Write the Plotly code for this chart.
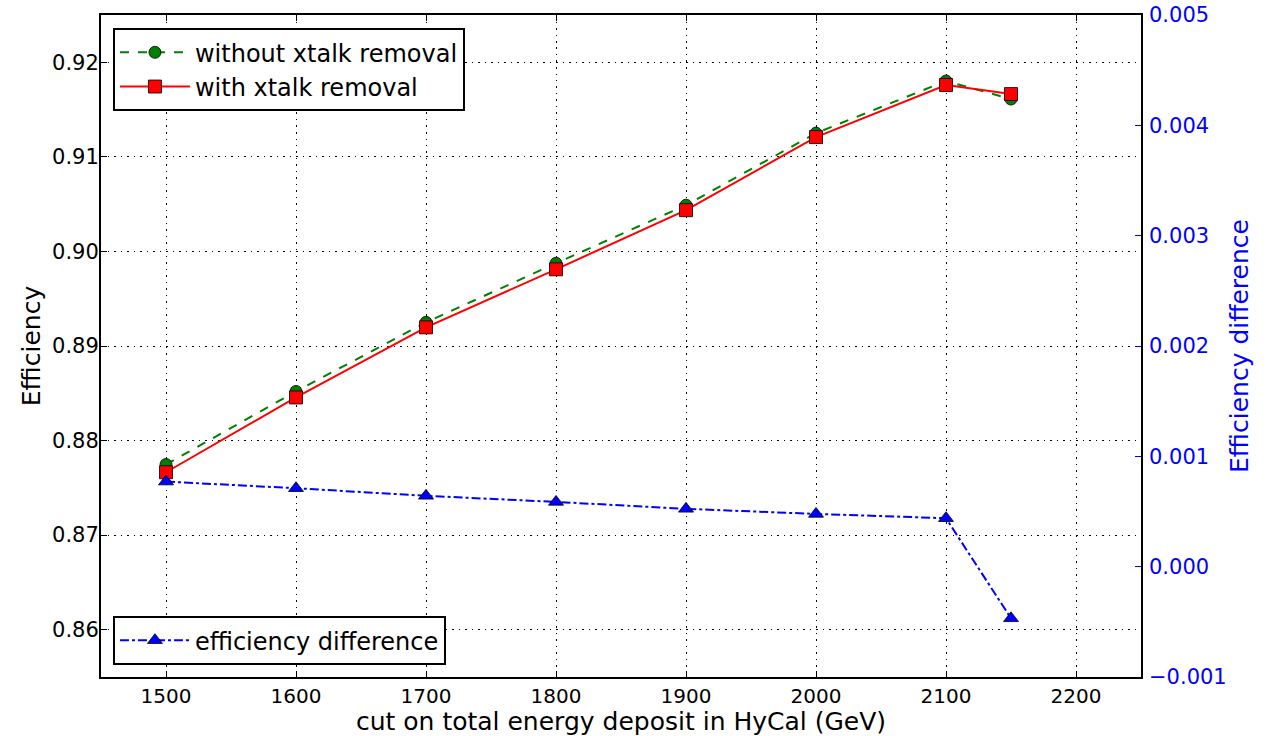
import plotly.graph_objects as go

energy_cut = [1500, 1600, 1700, 1800, 1900, 2000, 2100, 2150]
eff_without = [0.87747, 0.88520, 0.89250, 0.89875, 0.90489, 0.91251, 0.91802, 0.91611]
eff_with = [0.87665, 0.88456, 0.89197, 0.89811, 0.90436, 0.91209, 0.91760, 0.91664]
eff_err = [0.0002, 0.0002, 0.0002, 0.0002, 0.0002, 0.0002, 0.0002, 0.0002]
eff_diff = [0.000771, 0.000711, 0.000642, 0.000587, 0.000524, 0.000478, 0.000439, -0.000468]

x_ticks = [1500, 1600, 1700, 1800, 1900, 2000, 2100, 2200]
y_ticks = [0.86, 0.87, 0.88, 0.89, 0.90, 0.91, 0.92]
y2_ticks = [-0.001, 0.000, 0.001, 0.002, 0.003, 0.004, 0.005]

FONT = "DejaVu Sans"
GRID_DASH = "1.5px,5px"

fig = go.Figure()
fig.add_trace(go.Scatter(
    x=energy_cut, y=eff_without, name="without xtalk removal", mode="lines+markers",
    line=dict(color="green", dash="dash", width=2),
    marker=dict(symbol="circle", size=12, color="green", line=dict(color="black", width=0.8)),
    error_y=dict(type="data", array=eff_err, color="green", thickness=1.5, width=5),
    legend="legend"))
fig.add_trace(go.Scatter(
    x=energy_cut, y=eff_with, name="with xtalk removal", mode="lines+markers",
    line=dict(color="red", width=2),
    marker=dict(symbol="square", size=13, color="red", line=dict(color="black", width=0.8)),
    error_y=dict(type="data", array=eff_err, color="red", thickness=1.5, width=5),
    legend="legend"))
fig.add_trace(go.Scatter(
    x=energy_cut, y=eff_diff, name="efficiency difference", mode="lines+markers",
    line=dict(color="blue", dash="dashdot", width=2),
    marker=dict(symbol="triangle-up", size=13, color="blue", line=dict(color="black", width=0.8)),
    yaxis="y2", legend="legend2"))

fig.update_layout(
    width=1272, height=736,
    margin=dict(l=101, r=131, t=15, b=59),
    paper_bgcolor="white", plot_bgcolor="white",
    font=dict(family=FONT, size=21, color="black"),
    xaxis=dict(
        range=[1450, 2250], tickvals=x_ticks, ticks="inside", ticklen=6, tickcolor="black",
        showline=True, linecolor="black", linewidth=2, mirror="ticks", automargin=False,
        showgrid=True, gridcolor="black", griddash=GRID_DASH, gridwidth=1, zeroline=False,
        tickfont=dict(size=20),
        title=dict(text="cut on total energy deposit in HyCal (GeV)", font=dict(size=25), standoff=6),
    ),
    yaxis=dict(
        range=[0.855, 0.925], tickvals=y_ticks, tickformat=".2f", ticks="inside", ticklen=6,
        tickcolor="black", showline=True, linecolor="black", linewidth=2, mirror=True,
        showgrid=True, gridcolor="black", griddash=GRID_DASH, gridwidth=1, zeroline=False,
        automargin=False, ticklabelstandoff=-4,
        title=dict(text="Efficiency", font=dict(size=25), standoff=4),
    ),
    yaxis2=dict(
        overlaying="y", side="right", range=[-0.001, 0.005], tickvals=y2_ticks, tickformat=".3f",
        ticks="inside", ticklen=6, tickcolor="blue", tickfont=dict(color="blue"),
        showgrid=False, zeroline=False, showline=False, automargin=False, ticklabelstandoff=7,
        title=dict(text="Efficiency difference", font=dict(size=25, color="blue"), standoff=4),
    ),
    legend=dict(
        x=0.0115, y=0.98, xanchor="left", yanchor="top",
        bgcolor="white", bordercolor="black", borderwidth=2,
        font=dict(size=24), itemwidth=70, tracegroupgap=0,
    ),
    legend2=dict(
        x=0.0115, y=0.018, xanchor="left", yanchor="bottom",
        bgcolor="white", bordercolor="black", borderwidth=2,
        font=dict(size=24), itemwidth=70,
    ),
)

fig.write_html("out.html", config={"displayModeBar": False},
               post_script="document.body.style.margin='0';document.body.style.padding='0';")
